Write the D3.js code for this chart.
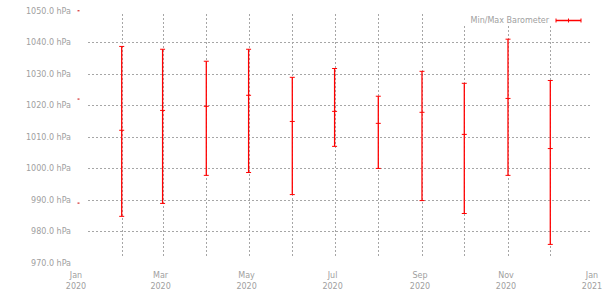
<!DOCTYPE html>
<html>
<head>
<meta charset="utf-8">
<script src="https://cdn.jsdelivr.net/npm/d3@7"></script>
<style>
  html, body { margin: 0; padding: 0; background: #fff; }
  svg { display: block; }
  text { font-family: "DejaVu Sans", sans-serif; fill: #a0a0a0; }
</style>
</head>
<body>
<script>
// ---- data ----
const months = ["2020-01-01","2020-02-01","2020-03-01","2020-04-01","2020-05-01","2020-06-01",
                "2020-07-01","2020-08-01","2020-09-01","2020-10-01","2020-11-01","2020-12-01"];
const minValues  = [989.0, 984.8, 988.9, 997.8, 998.7, 991.7, 1007.0, 1000.0, 989.8, 985.7, 997.8, 975.9];
const meanValues = [1022.0, 1012.1, 1018.4, 1019.7, 1023.2, 1014.9, 1018.1, 1014.3, 1017.8, 1010.8, 1022.2, 1006.3];
const maxValues  = [1050.0, 1038.7, 1037.8, 1034.0, 1037.8, 1028.9, 1031.7, 1022.9, 1030.8, 1027.0, 1041.0, 1027.9];
const yTickValues = [970, 980, 990, 1000, 1010, 1020, 1030, 1040, 1050];
const seriesName = "Min/Max Barometer";
const unit = "hPa";

const W = 610, H = 300;
const svg = d3.select("body").append("svg").attr("width", W).attr("height", H);

const parse = d3.utcParse("%Y-%m-%d");
const data = months.map((m, i) => ({ date: parse(m), min: minValues[i], mean: meanValues[i], max: maxValues[i] }));

const x = d3.scaleUtc()
  .domain([parse("2020-01-01"), parse("2021-01-01")])
  .range([78, 594]);
const y = d3.scaleLinear().domain([970, 1050]).range([263, 10.8]);

const gridColor = "#a6a6a6";
// horizontal grid (interior ticks)
svg.append("g").selectAll("line")
  .data(yTickValues.filter(v => v > 970 && v < 1050))
  .join("line")
  .attr("x1", 88).attr("x2", 591)
  .attr("y1", d => Math.round(y(d)) + 0.5).attr("y2", d => Math.round(y(d)) + 0.5)
  .attr("stroke", gridColor).attr("stroke-width", 1).attr("stroke-dasharray", "2,2");

// vertical grid (interior months)
const monthTicks = x.ticks(d3.utcMonth.every(1)).filter(d => d > x.domain()[0] && d < x.domain()[1]);
svg.append("g").selectAll("line")
  .data(monthTicks)
  .join("line")
  .attr("x1", d => Math.round(x(d)) + 0.5).attr("x2", d => Math.round(x(d)) + 0.5)
  .attr("y1", 14).attr("y2", 258)
  .attr("stroke", gridColor).attr("stroke-width", 1).attr("stroke-dasharray", "2,2");

// y labels
svg.append("g").selectAll("text")
  .data(yTickValues)
  .join("text")
  .attr("x", 71).attr("y", d => y(d))
  .attr("dy", "0.35em")
  .attr("text-anchor", "end")
  .attr("font-size", 8)
  .text(d => d3.format(".1f")(d) + " " + unit);

// x labels
const xLabelTicks = x.ticks(d3.utcMonth.every(2));
const xl = svg.append("g").selectAll("text")
  .data(xLabelTicks)
  .join("text")
  .attr("x", d => x(d) - 2)
  .attr("text-anchor", "middle")
  .attr("font-size", 8);
xl.append("tspan").attr("x", d => x(d) - 2).attr("y", 278).text(d3.utcFormat("%b"));
xl.append("tspan").attr("x", d => x(d) - 2).attr("y", 289).text(d3.utcFormat("%Y"));

// legend background
svg.append("rect").attr("x", 460).attr("y", 4).attr("width", 140).attr("height", 22).attr("fill", "#fff");

// error bars
const red = "#ff0000";
const cap = 2.5;
const bars = svg.append("g");
bars.selectAll("line.v")
  .data(data.filter(d => d.date > x.domain()[0]))
  .join("line").attr("class", "v")
  .attr("x1", d => x(d.date)).attr("x2", d => x(d.date))
  .attr("y1", d => y(d.max)).attr("y2", d => y(d.min))
  .attr("stroke", red).attr("stroke-width", 1.3);
["min", "mean", "max"].forEach(k => {
  bars.selectAll("line.c" + k)
    .data(data)
    .join("line").attr("class", "c" + k)
    .attr("x1", d => x(d.date) - (d.date > x.domain()[0] ? cap : 0.5))
    .attr("x2", d => x(d.date) + (d.date > x.domain()[0] ? cap : 1.5))
    .attr("y1", d => y(d[k])).attr("y2", d => y(d[k]))
    .attr("stroke", d => d.date > x.domain()[0] ? red : "#c00")
    .attr("stroke-width", 1);
});

// legend
const lg = svg.append("g");
lg.append("text").attr("x", 549).attr("y", 20).attr("dy", "0.35em")
  .attr("text-anchor", "end").attr("font-size", 8).text(seriesName);
lg.append("line").attr("x1", 556).attr("x2", 581).attr("y1", 20.5).attr("y2", 20.5)
  .attr("stroke", red).attr("stroke-width", 1.5);
[556, 568.5, 581].forEach(px => {
  lg.append("line").attr("x1", px).attr("x2", px).attr("y1", 18.5).attr("y2", 22.5)
    .attr("stroke", red).attr("stroke-width", 1);
});
</script>
</body>
</html>
